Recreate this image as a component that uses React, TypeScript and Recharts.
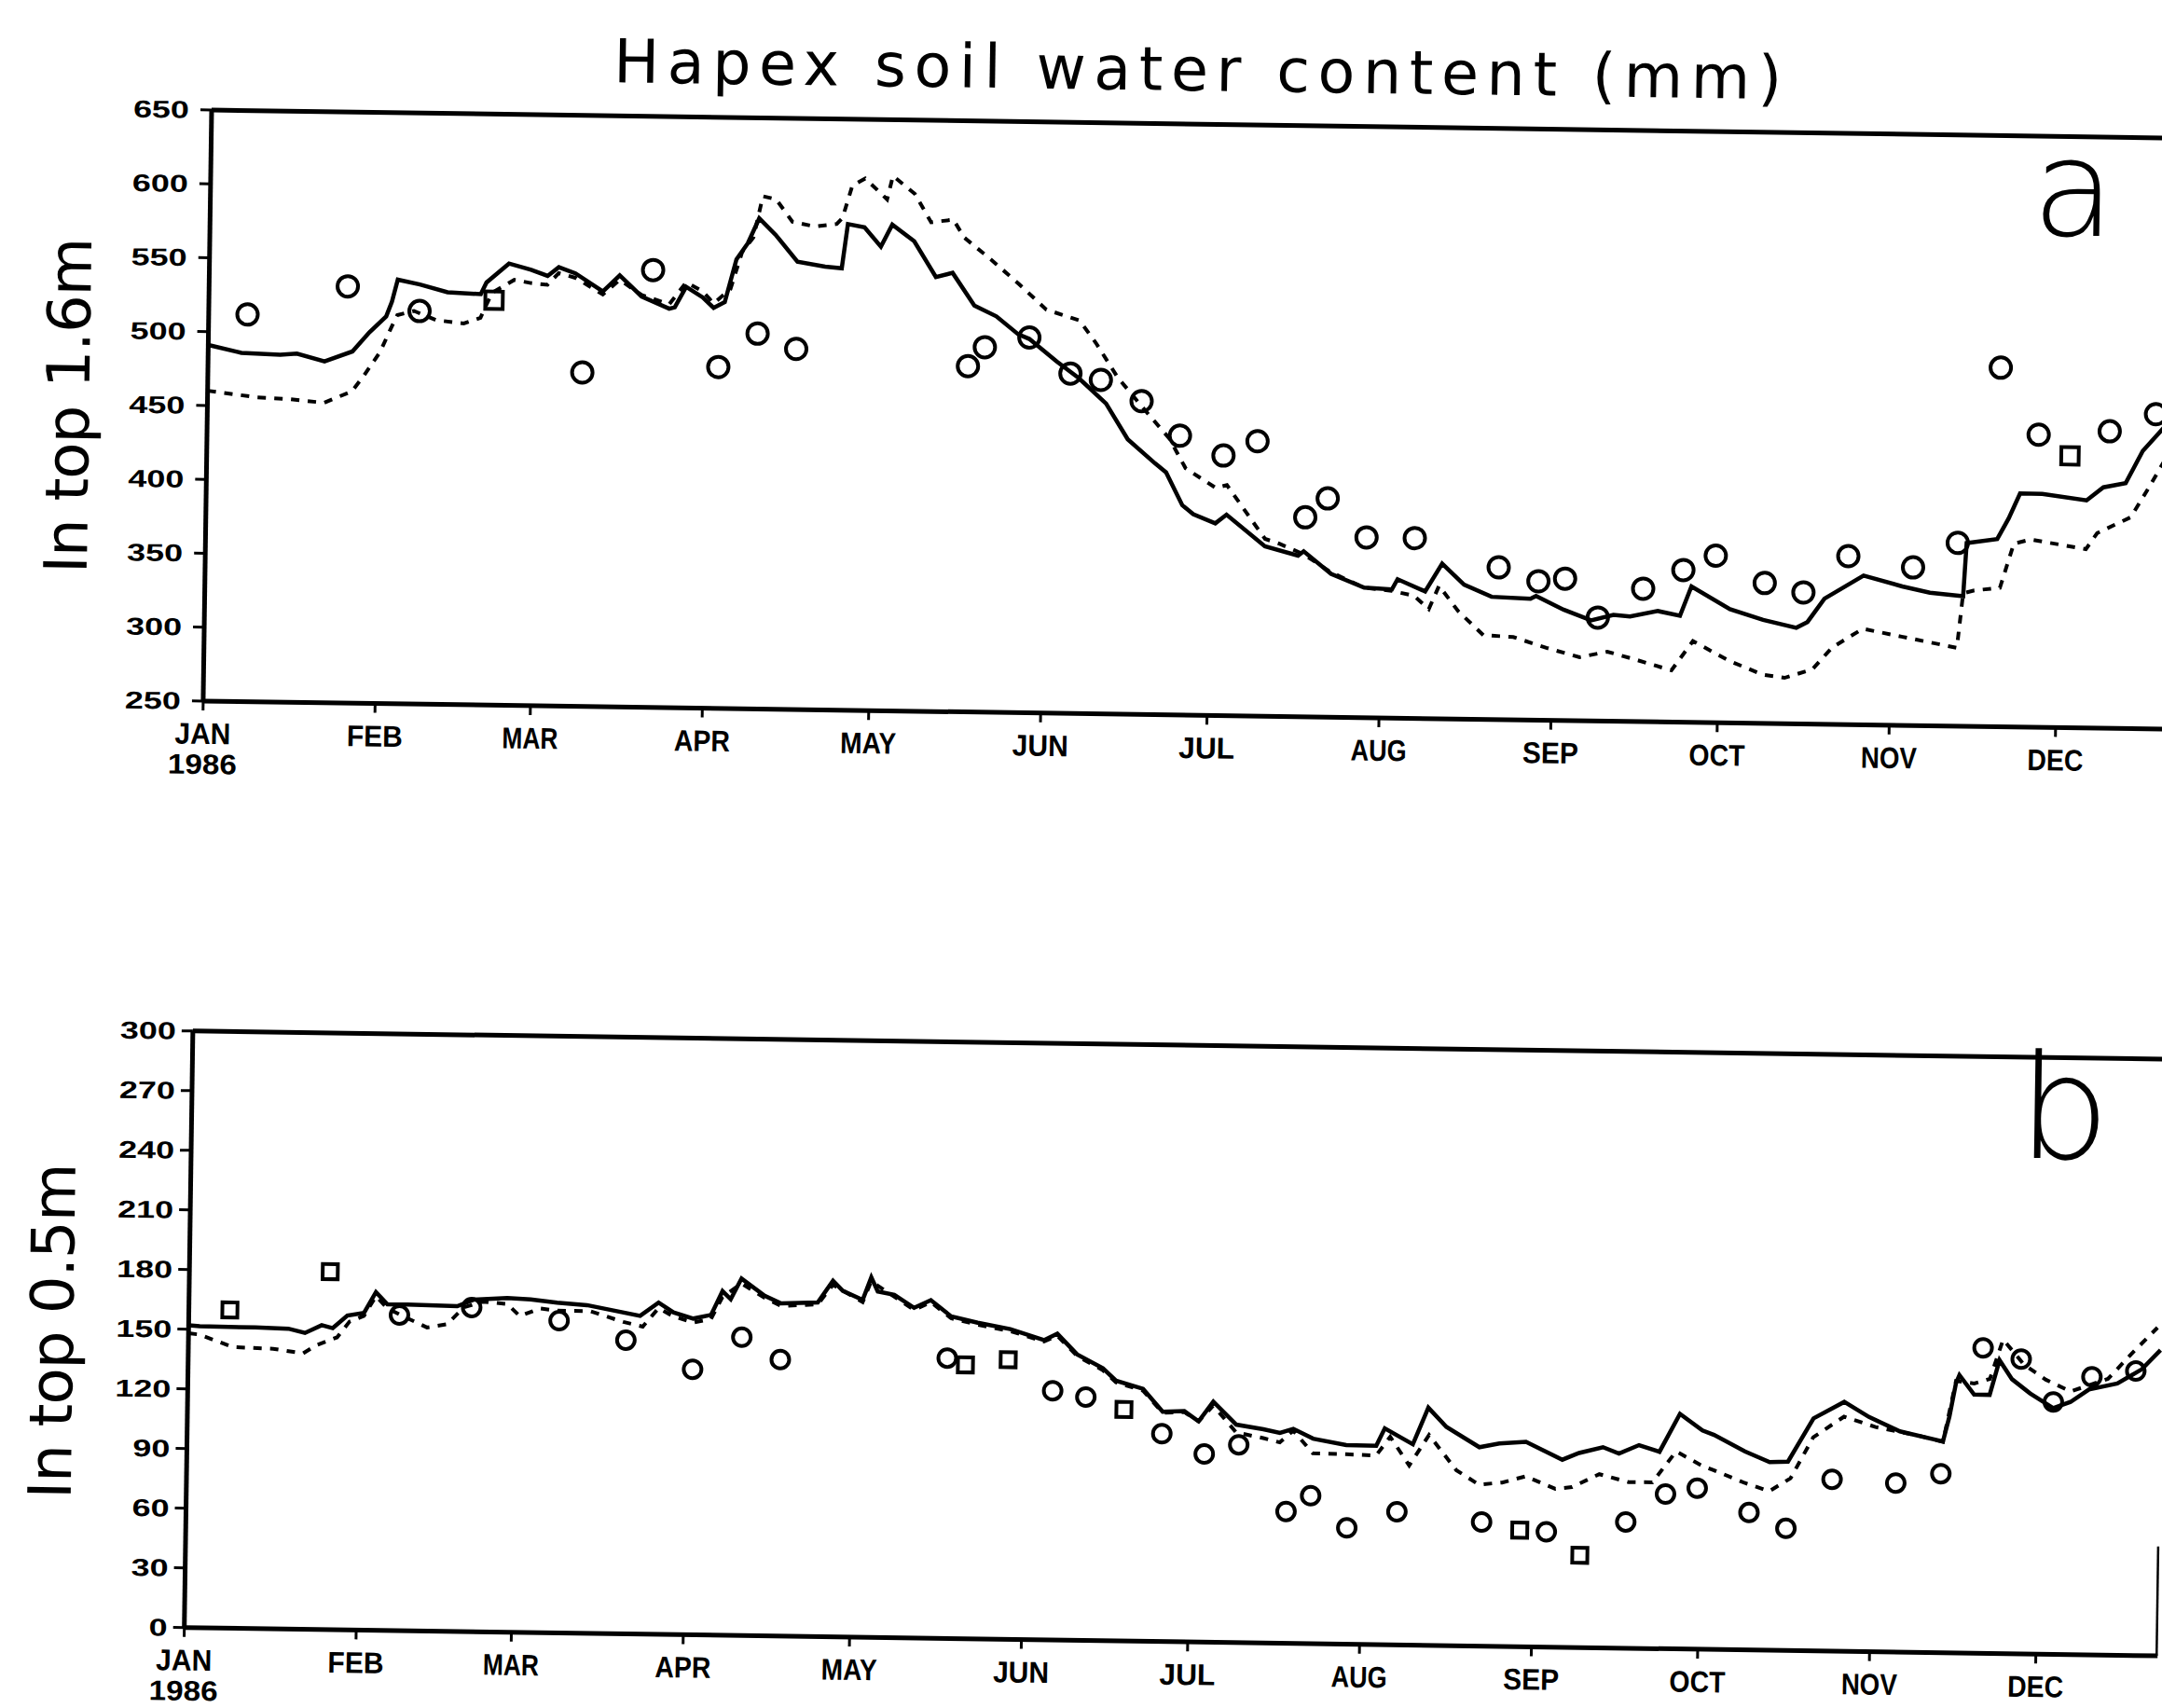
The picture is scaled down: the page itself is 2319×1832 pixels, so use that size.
import React from "react";
import {
  ComposedChart,
  Line,
  Scatter,
  XAxis,
  YAxis,
  ReferenceLine,
} from "recharts";

// month starts (day of year) and their labels
const monthTicks = [0, 31, 59, 90, 120, 151, 181, 212, 243, 273, 304, 334];
const monthNames = ["JAN", "FEB", "MAR", "APR", "MAY", "JUN", "JUL", "AUG", "SEP", "OCT", "NOV", "DEC"];
const yearLabel = "1986";

const yTicksA = [250, 300, 350, 400, 450, 500, 550, 600, 650];
const yTicksB = [0, 30, 60, 90, 120, 150, 180, 210, 240, 270, 300];

// panel a: top 1.6 m, [day, mm]
const solidA = [
  [0, 491], [6, 486], [13, 485], [16, 486], [21, 481], [26, 488], [29, 501], [32, 512],
  [33, 522], [34, 537], [38, 534], [43, 529], [49, 528], [50, 536], [54, 549], [58, 545],
  [61, 541], [63, 547], [66, 543], [71, 531], [74, 542], [78, 528], [83, 520], [84, 521],
  [86, 535], [89, 528], [91, 521], [93, 525], [95, 554], [97, 565], [99, 582], [102, 571],
  [106, 553], [111, 550], [114, 549], [115, 579], [118, 577], [121, 564], [123, 579], [127, 568],
  [131, 544], [134, 547], [138, 525], [142, 518], [146, 506], [148, 503], [153, 488], [157, 477],
  [162, 460], [166, 436], [171, 420], [173, 414], [176, 392], [178, 386], [182, 380], [184, 386],
  [191, 365], [197, 359], [198, 362], [203, 347], [209, 338], [214, 337], [215, 344], [220, 336],
  [223, 355], [227, 341], [232, 333], [239, 332], [240, 334], [245, 325], [250, 318], [254, 322],
  [257, 321], [262, 325], [266, 322], [268, 342], [275, 327], [281, 320], [287, 315], [289, 319],
  [292, 335], [299, 351], [306, 344], [311, 340], [317, 338], [317.5, 374], [323, 377], [325, 391],
  [327, 408], [331, 408], [339, 404], [342, 413], [346, 416], [349, 438], [353, 455], [356, 468],
];

const dottedA = [
  [0, 460], [9, 456], [15, 455], [21, 453], [26, 461], [28, 471], [31, 488], [33, 505],
  [34, 513], [37, 516], [41, 510], [46, 508], [49, 512], [51, 529], [55, 538], [58, 536],
  [61, 535], [63, 543], [66, 540], [71, 529], [74, 539], [78, 529], [83, 523], [86, 538],
  [89, 532], [91, 524], [94, 534], [96, 559], [98, 569], [99.6, 597], [102, 595], [105, 580],
  [109, 577], [113, 579], [114, 583], [115.7, 605], [118, 610], [120.6, 601], [122, 596], [123, 612],
  [127, 600], [130, 581], [134, 583], [136, 571], [141, 556], [146, 540], [151, 523], [157, 516],
  [160, 501], [164, 478], [169, 456], [173.5, 437], [176.5, 417], [182, 404], [184, 406], [191, 370],
  [193.5, 367], [198, 360], [203, 348], [209, 338], [214, 336], [218, 333], [220.7, 324], [222.5, 340],
  [226, 323], [230.6, 307], [236, 306], [242, 299], [248, 293], [253, 297], [258, 292], [264.6, 285],
  [268.4, 305], [275, 292], [281, 283], [285, 281], [290, 287], [293.5, 302], [299, 315], [306, 310],
  [316, 303], [317, 340], [319, 342], [323.6, 344], [326, 374], [329, 377], [339, 371], [341, 382],
  [347, 393], [350, 412], [353, 432], [356, 445],
];

const circlesA = [
  [7, 512], [25, 532], [38, 516], [67.5, 476], [80, 546], [92, 481], [99, 504], [106, 494],
  [137, 484], [140, 497], [148, 504], [155.5, 480], [161, 476], [168.4, 462], [175.4, 439],
  [183.3, 426], [189.4, 436], [198.2, 385], [202.2, 398], [209.3, 372], [218, 372], [233.2, 353],
  [240.4, 344], [245.2, 346], [251.2, 320], [259.3, 340], [266.5, 353], [272.3, 363], [281.2, 345],
  [288.2, 339], [296.2, 364], [307.9, 357], [315.9, 374], [323.2, 493], [330.2, 448], [343, 451],
  [351.3, 463],
];
const squaresA = [[51.4, 524], [335.9, 434]];

// panel b: top 0.5 m, [day, mm]
const solidB = [
  [0, 152], [2, 151.6], [12, 151.4], [18, 151], [21, 149], [24, 153], [26, 151.6], [28.6, 158],
  [31.6, 159.5], [33.7, 170], [35.8, 164], [39.4, 164], [48.4, 163.5], [51.4, 167], [57.4, 168],
  [61.6, 167.5], [66.4, 166], [71.8, 165], [81.4, 160], [84.7, 166.8], [87.4, 162], [91, 159],
  [94.2, 161], [96.2, 173], [97.7, 169], [99.6, 179.5], [103.8, 171], [106.8, 167.3], [113.4, 168],
  [116.1, 179], [117.9, 174], [121.5, 169.6], [123, 181], [124.2, 174], [127.2, 172.4], [130.8, 166],
  [133.8, 170], [137.5, 162], [142.3, 159], [148.2, 156], [154.3, 150.7], [156.7, 154], [160.3, 143.8],
  [165, 137], [167.4, 130.8], [172.3, 126.9], [175.9, 115.6], [179.8, 116], [182.4, 111], [185, 121],
  [189.2, 109.6], [194.1, 107.5], [197.1, 105.8], [199.5, 107.9], [203.1, 103.1], [209.1, 100.1],
  [214.5, 100], [216, 108.8], [221.1, 101], [223.8, 119.5], [227.1, 110], [233.1, 100], [236.7, 102],
  [241.5, 103], [248.1, 94.3], [251.1, 97.8], [255.4, 100.9], [258.3, 97.8], [261.9, 102.2],
  [265.6, 99], [269.2, 118.2], [273.3, 110], [275.4, 107.9], [281, 99.8], [285.5, 94.6], [288.8, 95],
  [293.3, 116.9], [298.8, 125.4], [303.3, 118], [308.9, 111], [316.7, 106.2], [317.8, 118.8],
  [318.9, 135.6], [319.5, 139.7], [322.2, 130], [325, 130], [326.7, 147.5], [329, 138], [332.3, 131],
  [336.5, 123.8], [339.6, 127], [342.9, 133.4], [348, 136.6], [352.4, 144], [355.7, 153.7],
];

const dottedB = [
  [0, 148], [2, 147.4], [8, 141.4], [15.3, 140.8], [20.7, 138.7], [23.1, 142.9], [26.8, 147], [29, 155],
  [31.6, 158], [33.7, 168], [35.8, 162], [38.2, 158.7], [43, 152.6], [46.6, 154.4], [49.6, 163],
  [53, 166], [57.4, 165], [59.7, 159], [63.3, 163], [66.4, 162], [72.4, 162], [78.4, 156.8],
  [81.9, 154.6], [84.7, 164], [87.4, 160], [91, 157], [94.2, 159], [96.2, 170], [99.6, 177],
  [103.8, 170], [106.8, 166], [113.4, 167], [116.1, 177], [121.5, 168.5], [123, 179], [127.2, 171.5],
  [130.8, 165], [133.8, 169], [137.5, 161], [142.3, 158], [148.2, 155], [154.3, 150], [156.7, 153],
  [160.3, 143], [165, 136], [167.4, 130], [172.3, 126], [175.9, 115], [179.8, 115.5], [182.4, 111],
  [185, 119], [189.2, 105.7], [194.1, 103], [197.1, 101], [199.5, 107], [203.1, 95.7], [209.1, 95.5],
  [214.5, 95.1], [217, 104.6], [220.5, 90.3], [224, 105.8], [229, 88.3], [233.1, 81.2], [237.3, 82.4],
  [241.5, 85.7], [246.9, 79.6], [249.9, 80.6], [254.8, 87.3], [260.1, 83.5], [264.4, 83.6],
  [268.6, 99.3], [273.3, 92.3], [275.4, 90.2], [281, 84], [285.5, 80], [289.3, 86.6], [293.3, 107.4],
  [298.8, 118], [304.5, 113], [311.6, 109.4], [316.7, 106], [318.9, 136.7], [322.2, 135.6], [325, 138],
  [327.3, 157.9], [331.1, 145.5], [335.1, 138], [339.6, 132.3], [346.3, 138.9], [350.8, 152.6],
  [355.1, 165],
];

const circlesB = [
  [38, 158.7], [51, 163], [66.8, 157], [78.9, 147.7], [91, 133.5], [99.8, 150], [106.8, 139],
  [136.9, 141], [156, 125.3], [162, 122.4], [175.8, 104.5], [183.5, 94.6], [189.7, 99.5],
  [198.4, 66.3], [202.8, 74.4], [209.4, 58.5], [218.4, 67], [233.7, 62.4], [245.4, 58], [259.7, 63.5],
  [266.8, 77.8], [272.5, 81], [281.9, 69.1], [288.6, 61.4], [296.8, 86.4], [308.3, 85], [316.4, 90],
  [323.7, 153.6], [330.6, 148.2], [336.5, 126.9], [343.4, 139.8], [351.3, 143],
];
const squaresB = [
  [7.4, 160], [25.4, 180], [140.2, 137.7], [147.9, 140.6], [168.9, 116.4], [240.6, 58.6], [251.5, 46.4],
];

const toRows = (pairs: number[][]) => pairs.map(([day, v]) => ({ day, v }));

const tickFont = "'Liberation Sans', Arial, sans-serif";
const thinFont = "'DejaVu Sans', sans-serif";

function YTick(props: any) {
  const { x, y, payload, gap } = props;
  const s = String(payload.value);
  return (
    <text
      x={x - gap}
      y={y}
      textAnchor="end"
      dominantBaseline="central"
      fontFamily={tickFont}
      fontWeight={700}
      fontSize={26}
      textLength={s.length * 20}
      lengthAdjust="spacingAndGlyphs"
      fill="#000"
    >
      {s}
    </text>
  );
}

function XTick(props: any) {
  const { x, y, payload } = props;
  const i = monthTicks.indexOf(payload.value);
  return (
    <g>
      <text
        x={x}
        y={y + 34}
        textAnchor="middle"
        fontFamily={tickFont}
        fontWeight={700}
        fontSize={32}
        textLength={60}
        lengthAdjust="spacingAndGlyphs"
        fill="#000"
      >
        {monthNames[i]}
      </text>
      {i === 0 && (
        <text
          x={x}
          y={y + 66}
          textAnchor="middle"
          fontFamily={tickFont}
          fontWeight={700}
          fontSize={30}
          textLength={74}
          lengthAdjust="spacingAndGlyphs"
          fill="#000"
        >
          {yearLabel}
        </text>
      )}
    </g>
  );
}

const circleShape = (r: number, w: number) => (p: any) => (
  <circle cx={p.cx} cy={p.cy} r={r} fill="none" stroke="#000" strokeWidth={w} />
);
const squareShape = (s: number, w: number) => (p: any) => (
  <rect x={p.cx - s / 2} y={p.cy - s / 2} width={s} height={s} fill="none" stroke="#000" strokeWidth={w} />
);

function Panel({
  solid,
  dotted,
  circles,
  squares,
  yTicks,
  yDomain,
  width,
  height,
  marginLeft,
  marginTop,
  gap,
  markR,
  rightSegment,
}: {
  solid: number[][];
  dotted: number[][];
  circles: number[][];
  squares: number[][];
  yTicks: number[];
  yDomain: [number, number];
  width: number;
  height: number;
  marginLeft: number;
  marginTop: number;
  gap: number;
  markR: number;
  rightSegment?: boolean;
}) {
  return (
    <ComposedChart
      width={width}
      height={height}
      margin={{ top: marginTop, right: 0, left: marginLeft, bottom: 0 }}
    >
      <XAxis
        dataKey="day"
        type="number"
        domain={[0, 356]}
        allowDataOverflow
        ticks={monthTicks}
        interval={0}
        height={108}
        tickSize={10}
        tickMargin={2}
        axisLine={{ stroke: "#000", strokeWidth: 5 }}
        tickLine={{ stroke: "#000", strokeWidth: 3 }}
        tick={(p: any) => <XTick {...p} />}
      />
      <YAxis
        type="number"
        domain={yDomain}
        allowDataOverflow
        ticks={yTicks}
        interval={0}
        width={120}
        tickSize={12}
        tickMargin={2}
        axisLine={{ stroke: "#000", strokeWidth: 5 }}
        tickLine={{ stroke: "#000", strokeWidth: 3 }}
        tick={(p: any) => <YTick {...p} gap={gap} />}
      />
      <ReferenceLine y={yDomain[1]} stroke="#000" strokeWidth={5} />
      {rightSegment && (
        <ReferenceLine
          segment={[
            { x: 356, y: 0 },
            { x: 356, y: 55 },
          ]}
          stroke="#000"
          strokeWidth={5}
        />
      )}
      <Line
        data={toRows(dotted)}
        dataKey="v"
        type="linear"
        stroke="#000"
        strokeWidth={4}
        strokeDasharray="9 9"
        dot={false}
        isAnimationActive={false}
      />
      <Line
        data={toRows(solid)}
        dataKey="v"
        type="linear"
        stroke="#000"
        strokeWidth={4.5}
        dot={false}
        isAnimationActive={false}
      />
      <Scatter
        data={toRows(circles)}
        dataKey="v"
        shape={circleShape(markR, 4)}
        isAnimationActive={false}
      />
      <Scatter
        data={toRows(squares)}
        dataKey="v"
        shape={squareShape(markR * 1.7, 4)}
        isAnimationActive={false}
      />
    </ComposedChart>
  );
}

export default function App() {
  return (
    <div
      style={{
        position: "absolute",
        left: 0,
        top: 0,
        width: 2319,
        height: 1832,
        overflow: "hidden",
        background: "#fff",
      }}
    >
      <div
        style={{
          position: "absolute",
          left: 0,
          top: 0,
          width: 2345,
          height: 1860,
          transform: "rotate(0.82deg)",
          transformOrigin: "227px 118px",
        }}
      >
        <div style={{ position: "absolute", left: 0, top: 0 }}>
          <Panel
            solid={solidA}
            dotted={dottedA}
            circles={circlesA}
            squares={squaresA}
            yTicks={yTicksA}
            yDomain={[250, 650]}
            width={2345}
            height={860}
            marginLeft={107}
            marginTop={118}
            gap={10}
            markR={11}
          />
        </div>
        <div style={{ position: "absolute", left: 0, top: 1000 }}>
          <Panel
            solid={solidB}
            dotted={dottedB}
            circles={circlesB}
            squares={squaresB}
            yTicks={yTicksB}
            yDomain={[0, 300]}
            width={2338}
            height={854}
            marginLeft={101}
            marginTop={106}
            gap={4}
            markR={9.5}
            rightSegment
          />
        </div>
        <svg
          width={2345}
          height={1860}
          style={{ position: "absolute", left: 0, top: 0, pointerEvents: "none" }}
        >
          <text
            x={1284}
            y={82}
            textAnchor="middle"
            fontFamily={thinFont}
            fontWeight={400}
            fontSize={65}
            textLength={1253}
            lengthAdjust="spacing"
            fill="#000"
          >
            Hapex soil water content (mm)
          </text>
          <text
            transform="translate(100, 437) rotate(-90)"
            textAnchor="middle"
            fontFamily={thinFont}
            fontWeight={400}
            fontSize={64}
            textLength={360}
            lengthAdjust="spacing"
            fill="#000"
          >
            In top 1.6m
          </text>
          <text
            transform="translate(97, 1430) rotate(-90)"
            textAnchor="middle"
            fontFamily={thinFont}
            fontWeight={400}
            fontSize={64}
            textLength={360}
            lengthAdjust="spacing"
            fill="#000"
          >
            In top 0.5m
          </text>
          <text x={2181} y={224} fontFamily={thinFont} fontWeight={200} fontSize={145} fill="#000">
            a
          </text>
          <text x={2180} y={1214} fontFamily={thinFont} fontWeight={200} fontSize={155} fill="#000">
            b
          </text>
        </svg>
      </div>
    </div>
  );
}
